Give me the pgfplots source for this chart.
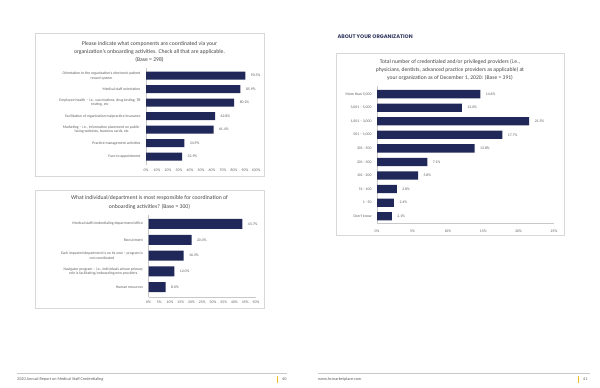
\documentclass[border=0pt]{standalone}
\usepackage{pgfplots}
\pgfplotsset{compat=1.18}
\usepackage{pgfplotstable}
\usepackage{fontspec}
\setmainfont{Carlito}
\newfontfamily\headfont{Poppins}
\definecolor{barblue}{RGB}{31,40,89}
\definecolor{titlegray}{RGB}{70,70,70}
\definecolor{labgray}{RGB}{95,95,95}
\definecolor{boxgray}{RGB}{215,215,215}
\definecolor{axisgray}{RGB}{200,200,200}
\definecolor{gold}{RGB}{240,190,40}

\pgfplotstableread{
i v
0 90.3
1 85.9
2 80.2
3 62.8
4 61.4
5 34.9
6 32.9
}\dataA
\pgfplotstableread{
i v
0 43.7
1 20.0
2 16.3
3 12.0
4 8.0
}\dataB
\pgfplotstableread{
i v
0 14.6
1 12.0
2 21.5
3 17.7
4 13.8
5 7.1
6 5.8
7 2.8
8 2.4
9 2.1
}\dataC

\pgfplotsset{mybar/.style={
  xbar, scale only axis, y dir=reverse,
  axis lines*=left,
  axis line style={draw=axisgray, line width=0.4pt},
  major tick length=0pt,
  /pgf/number format/assume math mode=true,
  xticklabel={\pgfmathprintnumber{\tick}\%},
  xticklabel style={font=\fontsize{3.8}{4.5}\selectfont, text=labgray, yshift=-1pt},
  yticklabel style={align=center, font=\fontsize{3.8}{4.6}\selectfont, text=labgray, xshift=-2pt},
  nodes near coords={\pgfmathprintnumber[fixed,fixed zerofill,precision=1]{\pgfplotspointmeta}\%},
  nodes near coords style={font=\fontsize{3.8}{4.5}\selectfont, text=labgray, xshift=2pt},
  point meta=x,
  ytick=data,
  enlargelimits=false,
  clip=false,
}}

\begin{document}
\begin{tikzpicture}
\path[use as bounding box, fill=white] (0pt,0pt) rectangle (600pt,-388pt);

% boxes
\draw[boxgray, line width=0.6pt] (35pt,-33pt) rectangle (264pt,-176pt);
\draw[boxgray, line width=0.6pt] (35pt,-190pt) rectangle (264pt,-308pt);
\draw[boxgray, line width=0.6pt] (336pt,-53pt) rectangle (564pt,-235pt);

% titles
\node[align=center, font=\fontsize{5.7}{7.6}\selectfont, text=titlegray] at (149.5pt,-52pt)
 {Please indicate what components are coordinated via your\\organization's onboarding activities. Check all that are applicable.\\(Base = 298)};
\node[align=center, font=\fontsize{5.7}{8.6}\selectfont, text=titlegray] at (149.5pt,-202.5pt)
 {What individual/department is most responsible for coordination of\\onboarding activities? (Base = 300)};
\node[align=center, font=\fontsize{5.6}{7.9}\selectfont, text=titlegray] at (450pt,-70pt)
 {Total number of credentialed and/or privileged providers (i.e.,\\physicians, dentists, advanced practice providers as applicable) at\\your organization as of December 1, 2020: (Base = 391)};

\node[anchor=west, font=\headfont\bfseries\fontsize{5.2}{6}\selectfont, text=barblue!80!gray] at (334pt,-37pt) {ABOUT YOUR ORGANIZATION};

% chart 1
\begin{axis}[mybar, at={(146pt,-67.6pt)}, anchor=north west,
  width=110pt, height=97.2pt,
  xmin=0, xmax=100, ymin=-0.6, ymax=6.6,
  xtick={0,10,...,100},
  x axis line style={draw=none},
  bar width=8pt,
  yticklabels={{Orientation to the organization's electronic patient\\record system},
   {Medical staff orientation},
   {Employee health -- i.e., vaccinations, drug testing, TB\\testing, etc},
   {Facilitation of organization malpractice insurance},
   {Marketing -- i.e., information placement on public-\\facing websites, business cards, etc},
   {Practice management activities},
   {Face to appointment}}]
\addplot[fill=barblue, draw=none] table[x=v, y=i] {\dataA};
\end{axis}

% chart 2
\begin{axis}[mybar, at={(148.5pt,-214.5pt)}, anchor=north west,
  width=107.5pt, height=82.2pt,
  xmin=0, xmax=50, ymin=-0.6, ymax=4.6,
  xtick={0,5,...,50},
  bar width=10pt,
  yticklabels={{Medical staff/credentialing department/office},
   {Recruitment},
   {Each impacted department is on its own -- program is\\not coordinated},
   {Navigator program -- i.e., individuals whose primary\\role is facilitating/onboarding new providers},
   {Human resources}}]
\addplot[fill=barblue, draw=none] table[x=v, y=i] {\dataB};
\end{axis}

% chart 3
\begin{axis}[mybar, at={(377pt,-86pt)}, anchor=north west,
  width=177pt, height=137pt,
  xmin=0, xmax=25, ymin=-0.6, ymax=9.5,
  xtick={0,5,...,25},
  xticklabel style={yshift=-2pt},
  bar width=8.3pt,
  yticklabels={{More than 5,000},{3,001 -- 5,000},{1,001 -- 3,000},{501 -- 1,000},
   {301 - 500},{201 - 300},{101 - 200},{51 - 100},{1 - 50},{Don't know}}]
\addplot[fill=barblue, draw=none] table[x=v, y=i] {\dataC};
\end{axis}

% footers
\draw[axisgray, line width=0.5pt] (17pt,-373pt) -- (287pt,-373pt);
\draw[axisgray, line width=0.5pt] (318pt,-373pt) -- (590pt,-373pt);
\node[anchor=west, font=\fontsize{4.2}{5}\selectfont, text=labgray, inner sep=0pt] at (17pt,-379pt) {2020 Annual Report on Medical Staff Credentialing};
\node[anchor=west, font=\fontsize{4.2}{5}\selectfont, text=labgray, inner sep=0pt] at (318pt,-379pt) {www.hcmarketplace.com};
\fill[gold] (277pt,-375.5pt) rectangle (278.2pt,-382.5pt);
\fill[gold] (578pt,-375.5pt) rectangle (579.2pt,-382.5pt);
\node[anchor=west, font=\fontsize{4.2}{5}\selectfont, text=labgray, inner sep=0pt] at (282pt,-379pt) {40};
\node[anchor=west, font=\fontsize{4.2}{5}\selectfont, text=labgray, inner sep=0pt] at (583pt,-379pt) {41};
\end{tikzpicture}
\end{document}
